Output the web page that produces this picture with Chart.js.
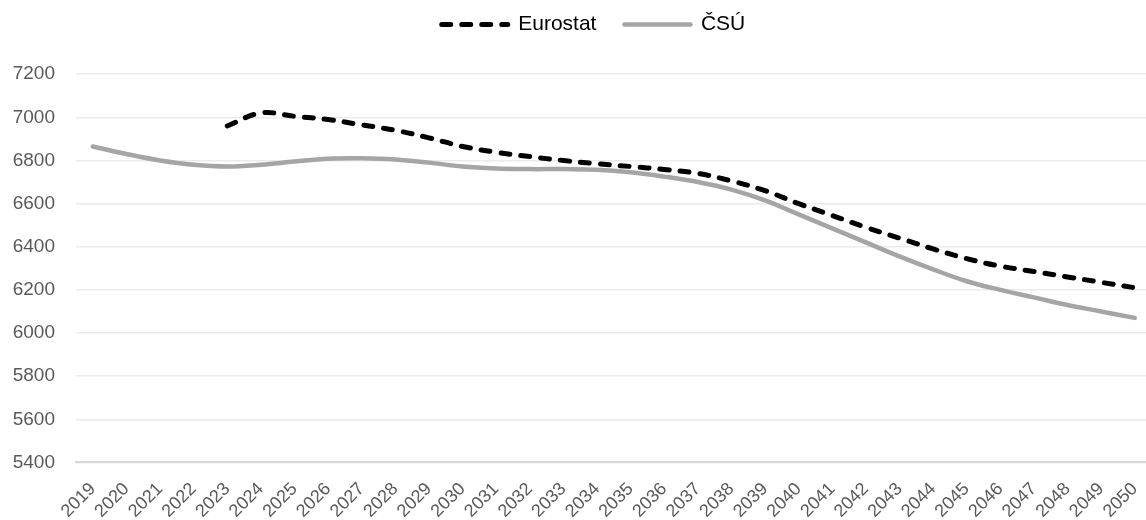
<!DOCTYPE html>
<html>
<head>
<meta charset="utf-8">
<script src="https://cdn.jsdelivr.net/npm/chart.js"></script>
<style>
  html, body { margin: 0; padding: 0; background: #fff; overflow: hidden; }
  #wrap { width: 1158px; height: 520px; position: relative; }
</style>
</head>
<body>
<div id="wrap"><canvas id="popChart"></canvas></div>
<script>
// years on the category axis
const years = [
  '2019', '2020', '2021', '2022', '2023', '2024', '2025', '2026', '2027', '2028', '2029',
  '2030', '2031', '2032', '2033', '2034', '2035', '2036', '2037', '2038', '2039', '2040',
  '2041', '2042', '2043', '2044', '2045', '2046', '2047', '2048', '2049', '2050'
];

// Eurostat projection (starts in 2023)
const eurostat = [
  null, null, null, null, 6960, 7020, 7005, 6990, 6965, 6940, 6905,
  6865, 6838, 6818, 6800, 6785, 6772, 6758, 6740, 6705, 6660, 6600,
  6545, 6490, 6440, 6390, 6345, 6310, 6285, 6260, 6235, 6210
];

// ČSÚ projection
const csu = [
  6865, 6830, 6800, 6780, 6772, 6780, 6795, 6808, 6810, 6805, 6790,
  6772, 6763, 6760, 6760, 6757, 6745, 6725, 6700, 6665, 6615, 6550,
  6485, 6420, 6355, 6295, 6240, 6200, 6165, 6130, 6100, 6070
];

const yMin = 5400;
const yMax = 7200;
const yStep = 200;

const fontFamily = '"Liberation Sans", Arial, sans-serif';

// nudge the legend a bit to the right, like in the original
const legendShift = {
    id: 'legendShift',
    afterLayout(chart) {
        if (chart.legend) {
            chart.legend.left += 8;
            chart.legend.right += 8;
        }
    }
};

const ctx = document.getElementById('popChart').getContext('2d');

new Chart(ctx, {
    type: 'line',
    data: {
        labels: years,
        datasets: [
            {
                label: 'Eurostat',
                data: eurostat,
                borderColor: '#000000',
                backgroundColor: '#000000',
                borderWidth: 5,
                borderDash: [9, 11],
                borderCapStyle: 'round',
                pointRadius: 0,
                tension: 0.4,
                fill: false
            },
            {
                label: 'ČSÚ',
                data: csu,
                borderColor: '#a5a5a5',
                backgroundColor: '#a5a5a5',
                borderWidth: 4.5,
                borderCapStyle: 'round',
                pointRadius: 0,
                tension: 0.4,
                fill: false
            }
        ]
    },
    plugins: [legendShift],
    options: {
        responsive: true,
        maintainAspectRatio: false,
        animation: false,
        layout: { padding: { top: -14, left: 13, right: 0, bottom: -10 } },
        plugins: {
            legend: {
                display: true,
                position: 'top',
                weight: 3000,
                labels: {
                    usePointStyle: true,
                    pointStyle: 'line',
                    pointStyleWidth: 66,
                    padding: 28,
                    color: '#000000',
                    font: { family: fontFamily, size: 21 },
                    // point-style legend items don't pick up the dataset's dash/width, so copy them over
                    generateLabels: function(chart) {
                        const items = Chart.defaults.plugins.legend.labels.generateLabels(chart);
                        items.forEach(item => {
                            const ds = chart.data.datasets[item.datasetIndex];
                            item.pointStyle = 'line';
                            item.strokeStyle = ds.borderColor;
                            item.lineWidth = ds.borderWidth;
                            item.lineDash = ds.borderDash || [];
                            item.lineCap = ds.borderCapStyle;
                        });
                        return items;
                    }
                }
            },
            // empty title used only as a spacer between legend and plot
            title: {
                display: true,
                text: ' ',
                font: { size: 1 },
                padding: { top: 0, bottom: 28 }
            },
            tooltip: { enabled: false }
        },
        scales: {
            x: {
                offset: true,
                grid: { display: false },
                border: { display: true, color: '#d9d9d9', width: 2 },
                ticks: {
                    autoSkip: false,
                    maxRotation: 45,
                    minRotation: 45,
                    padding: 8,
                    color: '#595959',
                    font: { family: fontFamily, size: 18 }
                }
            },
            y: {
                min: yMin,
                max: yMax,
                grid: { color: '#ebebeb', lineWidth: 1.5, drawTicks: false, tickLength: 0 },
                border: { display: false },
                ticks: {
                    stepSize: yStep,
                    padding: 21,
                    color: '#595959',
                    font: { family: fontFamily, size: 19 },
                    callback: value => String(value)
                },
                // fixed axis width so the plot starts where the reference does
                afterFit: axis => { axis.width = 63; }
            }
        }
    }
});
</script>
</body>
</html>
